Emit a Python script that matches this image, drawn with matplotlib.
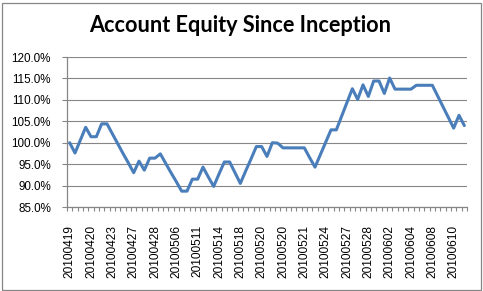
import matplotlib
matplotlib.use("Agg")
import matplotlib.pyplot as plt
import numpy as np
from matplotlib.ticker import FixedLocator, FuncFormatter
from matplotlib.patches import Rectangle

# Account equity (%) per trade
equity = [
    100.0, 97.6, 100.6, 103.6, 101.4, 101.4, 104.4, 104.4, 102.1, 99.8,
    97.5, 95.3, 93.0, 95.7, 93.6, 96.4, 96.4, 97.4, 95.2, 93.0,
    90.9, 88.7, 88.7, 91.5, 91.5, 94.3, 92.0, 89.8, 92.7, 95.5,
    95.5, 93.0, 90.5, 93.4, 96.2, 99.1, 99.1, 96.8, 100.0, 99.9,
    98.8, 98.8, 98.8, 98.8, 98.8, 96.5, 94.3, 97.2, 100.1, 103.0,
    103.0, 106.2, 109.4, 112.6, 110.1, 113.5, 110.8, 114.4, 114.4, 111.5,
    115.1, 112.5, 112.5, 112.5, 112.5, 113.4, 113.4, 113.4, 113.4, 110.9,
    108.4, 105.9, 103.4, 106.4, 104.0,
]

# Category labels shown on the axis (every 4th trade)
shown_labels = [
    "20100419", "20100420", "20100423", "20100427", "20100428",
    "20100506", "20100511", "20100514", "20100518", "20100520",
    "20100520", "20100521", "20100524", "20100527", "20100528",
    "20100602", "20100604", "20100608", "20100610",
]
label_step = 4

title = "Account Equity Since Inception"
y_min, y_max, y_step = 85, 120, 5

W, H = 483, 291
fig = plt.figure(figsize=(W / 100, H / 100), dpi=100)
fig.patch.set_facecolor("white")

ax = fig.add_axes([67 / W, (H - 207) / H, 400 / W, 150 / H])
x = np.arange(len(equity))
ax.plot(x, equity, color="#4A7EBB", lw=2.2, solid_joinstyle="round",
        solid_capstyle="round", zorder=3)

ax.set_xlim(-0.5, len(equity) - 0.5)
ax.set_ylim(y_min, y_max)

grid_c = "#868686"
for s in ["top", "right"]:
    ax.spines[s].set_visible(False)
for s in ["left", "bottom"]:
    ax.spines[s].set_color(grid_c)
    ax.spines[s].set_linewidth(0.9)

yt = np.arange(y_min, y_max + 0.1, y_step)
ax.set_yticks(yt)
ax.yaxis.set_major_formatter(FuncFormatter(lambda v, p: f"{v:.1f}%"))
ax.grid(axis="y", color=grid_c, lw=0.8, zorder=1)
ax.set_axisbelow(True)

ax.xaxis.set_major_locator(FixedLocator(x[::label_step][:len(shown_labels)]))
ax.set_xticklabels(shown_labels, rotation=90)
ax.xaxis.set_minor_locator(FixedLocator(np.arange(-0.5, len(equity), 1.0)))

ax.tick_params(axis="x", which="major", length=0, pad=13,
               labelsize=8.6, labelcolor="black")
ax.tick_params(axis="x", which="minor", length=3, width=0.8,
               color=grid_c, direction="out")
ax.tick_params(axis="y", which="major", length=3.5, width=0.8,
               color=grid_c, direction="out", pad=8, labelsize=8.4,
               labelcolor="black")
for lab in ax.get_xticklabels() + ax.get_yticklabels():
    lab.set_fontfamily(["Liberation Sans", "DejaVu Sans"])

fig.text(240 / W, 1 - 26 / H, title, ha="center", va="center",
         fontsize=15.6, fontweight="bold", family=["Lato", "DejaVu Sans"])

fig.patches.append(Rectangle((1.5 / W, 1.5 / H), (W - 4) / W, (H - 4) / H,
                             transform=fig.transFigure, fill=False,
                             edgecolor=grid_c, lw=0.9))

fig.savefig("out.png", dpi=100)
